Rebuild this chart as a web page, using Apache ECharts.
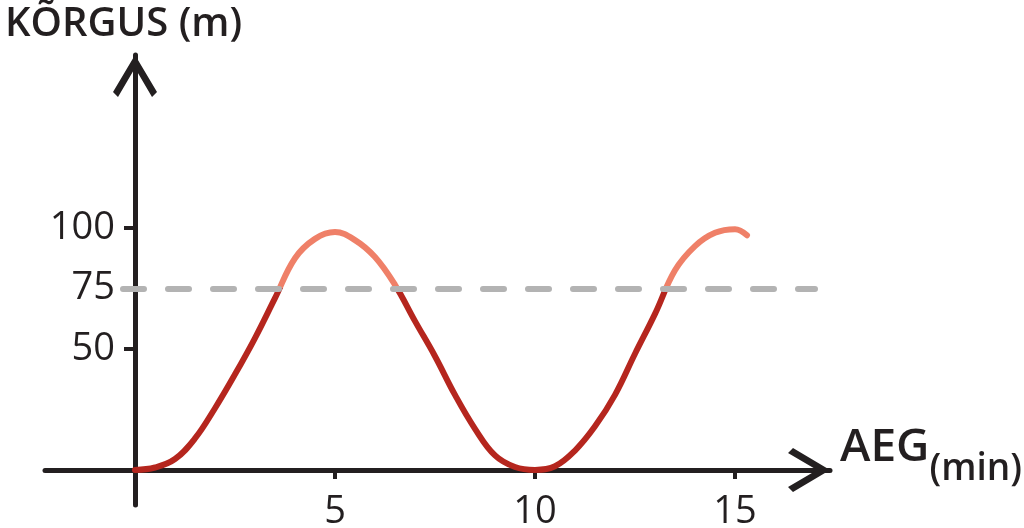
<!DOCTYPE html>
<html>
<head>
<meta charset="utf-8">
<script src="https://cdn.jsdelivr.net/npm/echarts@6/dist/echarts.min.js"></script>
<style>html,body{margin:0;padding:0;background:#fff}#c{width:1024px;height:528px}</style>
</head>
<body>
<div id="c"></div>
<script>
// time (min) and height (m)
var times   = [0, 0.5, 1, 1.5, 2, 2.5, 3, 3.5, 4, 4.5, 5, 5.5, 6, 6.5, 7, 7.5, 8, 8.5, 9, 9.5, 10, 10.5, 11, 11.5, 12, 12.5, 13, 13.5, 14, 14.5, 15, 15.3];
var heights = [0, 1, 4.5, 13, 25.5, 39.5, 54.5, 71, 87.5, 95.5, 98.3, 95, 88, 76.5, 61.5, 47, 31, 17, 6, 1.2, 0, 1.5, 8, 18, 31, 48, 64.5, 82.5, 92.5, 98, 99.5, 97];
var xTicks = [5, 10, 15];
var yTickMarks = [50, 100];
var yTickLabels = [50, 75, 100];
var threshold = 75;
var refLine = {from: -0.3, to: 17.0, value: 75};
var yTitle = 'KÕRGUS (m)';
var xTitleMain = 'AEG';
var xTitleSub = '(min)';

var ink = '#231f20';
var font = 'Open Sans';
var chevron = 'path://M0,0 L22,37 L17,42 L0,13 L-17,42 L-22,37 Z';

var chart = echarts.init(document.getElementById('c'), null, {renderer: 'canvas'});
chart.setOption({
  animation: false,
  backgroundColor: '#ffffff',
  title: [
    {text: yTitle, left: 0, top: 0, textStyle: {fontFamily: font, fontSize: 40, fontWeight: 600, color: ink}},
    {text: '{a|' + xTitleMain + '}{b|' + xTitleSub + '}', left: 835, top: 420,
     textStyle: {rich: {
       a: {fontFamily: font, fontSize: 46, fontWeight: 600, color: ink, verticalAlign: 'top'},
       b: {fontFamily: font, fontSize: 37, fontWeight: 600, color: ink, padding: [26, 0, 0, 0], verticalAlign: 'top'}
     }}}
  ],
  grid: {left: 45, right: 194, top: 55, bottom: 23, containLabel: false, outerBoundsMode: 'none'},
  xAxis: {
    type: 'value', min: -2.25, max: 17.375,
    splitLine: {show: false},
    axisLine: {onZero: true, lineStyle: {color: ink, width: 5, cap: 'round'},
      symbol: ['none', chevron], symbolSize: [44, 42], symbolOffset: [0, -21]},
    axisTick: {customValues: xTicks, length: 9, lineStyle: {color: ink, width: 4}},
    axisLabel: {customValues: xTicks, margin: -12, fontFamily: font, fontSize: 38, color: ink}
  },
  yAxis: {
    type: 'value', min: -14.5, max: 171.5,
    splitLine: {show: false},
    axisLine: {onZero: true, lineStyle: {color: ink, width: 5, cap: 'round'},
      symbol: ['none', chevron], symbolSize: [50, 42], symbolOffset: [0, -21]},
    axisTick: {customValues: yTickMarks, length: 11, lineStyle: {color: ink, width: 4}},
    axisLabel: {customValues: yTickLabels, margin: -70, fontFamily: font, fontSize: 38, color: ink}
  },
  visualMap: {
    show: false, type: 'piecewise', dimension: 1, seriesIndex: 0,
    pieces: [{gte: -100, lt: threshold, color: '#b5261e'}, {gte: threshold, lte: 300, color: '#ef8068'}]
  },
  series: [{
    type: 'line',
    data: times.map(function (t, i) { return [t, heights[i]]; }),
    smooth: 0.4,
    showSymbol: false,
    lineStyle: {width: 6, cap: 'round'},
    z: 3
  }, {
    type: 'line',
    data: [],
    z: 5,
    markLine: {
      silent: true,
      symbol: ['none', 'none'],
      label: {show: false},
      lineStyle: {color: '#b3b3b3', width: 6, type: [21, 24], cap: 'round'},
      data: [[{coord: [refLine.from, refLine.value]}, {coord: [refLine.to, refLine.value]}]]
    }
  }]
});
</script>
</body>
</html>
